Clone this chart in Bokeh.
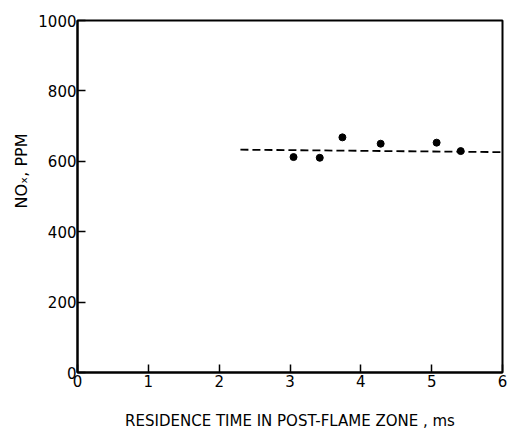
from bokeh.plotting import figure
from bokeh.models import Range1d, FixedTicker, Title
from bokeh.embed import file_html
from bokeh.resources import INLINE

# data
time_ms = [3.05, 3.42, 3.74, 4.28, 5.07, 5.41]
nox_ppm = [612, 610, 668, 650, 653, 629]
fit_x = [2.3, 6.0]
fit_y = [633, 626]
x_ticks = [0, 1, 2, 3, 4, 5, 6]
y_ticks = [0, 200, 400, 600, 800, 1000]

FONT = "DejaVu Sans"

p = figure(width=508, height=432, output_backend="svg", toolbar_location=None,
           x_range=Range1d(0, 6), y_range=Range1d(0, 1000),
           min_border_left=77, min_border_right=6, min_border_top=20, min_border_bottom=59)
p.grid.visible = False
p.background_fill_color = "white"
p.border_fill_color = "white"
p.outline_line_color = "black"
p.outline_line_width = 2

for ax in (p.xaxis[0], p.yaxis[0]):
    ax.axis_line_width = 2
    ax.axis_line_color = "black"
    ax.major_tick_in = 8
    ax.major_tick_out = 0
    ax.major_tick_line_width = 1.5
    ax.minor_tick_line_color = None
    ax.major_label_text_font = FONT
    ax.major_label_text_font_size = "15px"
    ax.major_label_text_color = "black"
    ax.axis_label_text_font = FONT
    ax.axis_label_text_font_style = "normal"
    ax.axis_label_text_color = "black"

p.xaxis[0].ticker = FixedTicker(ticks=x_ticks)
p.yaxis[0].ticker = FixedTicker(ticks=y_ticks)
p.xaxis[0].major_label_standoff = 2
p.yaxis[0].major_label_standoff = 1
p.xaxis[0].axis_label = "RESIDENCE TIME IN POST-FLAME ZONE , ms"
p.xaxis[0].axis_label_text_font_size = "15px"
p.xaxis[0].axis_label_standoff = 22

ytitle = Title(text="NOₓ, PPM", align="right", offset=113, vertical_align="middle",
               text_font=FONT, text_font_size="16px", text_font_style="normal",
               text_color="black", standoff=8)
p.add_layout(ytitle, "left")

p.line(fit_x, fit_y, line_color="black", line_width=1.8, line_dash="8 4")
p.scatter(time_ms, nox_ppm, size=7, fill_color="black", line_color="black")

open("out.html", "w").write(file_html(p, INLINE))
